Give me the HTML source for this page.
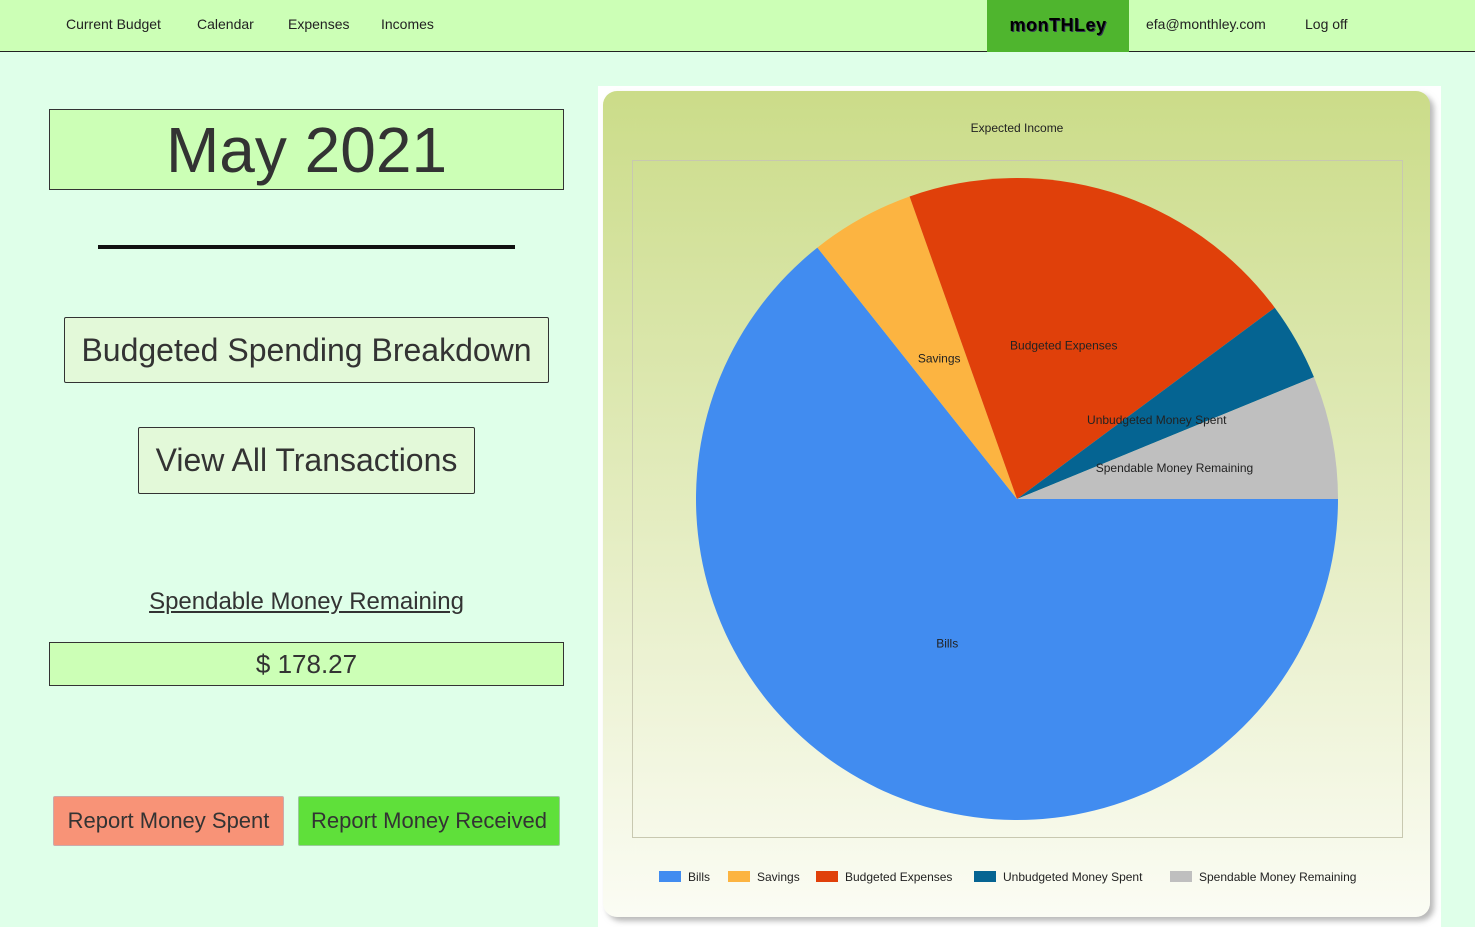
<!DOCTYPE html>
<html><head><meta charset="utf-8"><style>
body{margin:0;width:1475px;height:927px;background:#dfffe9;font-family:"Liberation Sans",sans-serif;position:relative;overflow:hidden}
.nav{position:absolute;left:0;top:0;width:1475px;height:51px;background:#ccffb6;border-bottom:1.5px solid #222}
.nav a{position:absolute;top:16px;font-size:14px;color:#222;text-decoration:none}
.brand{position:absolute;left:987px;top:0;width:142px;height:52px;background:#4fb52e;font-weight:bold;font-size:18px;color:#000;text-align:center;line-height:50px;letter-spacing:0.5px;text-shadow:1px 1px 0 #335}
.box{position:absolute;background:#ccffb6;border:1px solid #333;color:#333;text-align:center;box-sizing:border-box}
.btn{position:absolute;background:#e3f9d9;border:1px solid #333;border-radius:2px;color:#333;text-align:center;box-sizing:border-box;font-size:32px}
</style></head><body>
<div class="nav">
<a style="left:66px">Current Budget</a>
<a style="left:197px">Calendar</a>
<a style="left:288px">Expenses</a>
<a style="left:381px">Incomes</a>
<div class="brand">monTHLey</div>
<a style="left:1146px">efa@monthley.com</a>
<a style="left:1305px">Log off</a>
</div>
<div class="box" style="left:49px;top:109px;width:515px;height:81px;font-size:64px;line-height:80px">May 2021</div>
<div style="position:absolute;left:98px;top:245px;width:417px;height:4px;background:#111"></div>
<div class="btn" style="left:64px;top:317px;width:485px;height:66px;line-height:64px">Budgeted Spending Breakdown</div>
<div class="btn" style="left:138px;top:427px;width:337px;height:67px;line-height:65px">View All Transactions</div>
<div style="position:absolute;left:0;width:613px;top:588px;text-align:center;font-size:24px;color:#333;text-decoration:underline">Spendable Money Remaining</div>
<div class="box" style="left:49px;top:642px;width:515px;height:44px;font-size:26px;line-height:43px">$ 178.27</div>
<div style="position:absolute;left:53px;top:796px;width:231px;height:50px;background:#f89377;border:1px solid #caa;box-sizing:border-box;border-radius:2px;font-size:22px;color:#333;text-align:center;line-height:48px">Report Money Spent</div>
<div style="position:absolute;left:298px;top:796px;width:262px;height:50px;background:#5fe03a;border:1px solid #9c9;box-sizing:border-box;border-radius:2px;font-size:22px;color:#333;text-align:center;line-height:48px">Report Money Received</div>

<div style="position:absolute;left:598px;top:86px;width:843px;height:841px;background:#fff"></div>
<svg id="chart" style="position:absolute;left:0;top:0" width="1475" height="927">
<defs><linearGradient id="g" x1="0" y1="0" x2="0" y2="1"><stop offset="0" stop-color="#cbdc89"/><stop offset="1" stop-color="#fbfcf4"/></linearGradient>
<filter id="sh"><feDropShadow dx="4" dy="4" stdDeviation="3" flood-color="#888" flood-opacity="0.6"/></filter></defs>
<rect x="603" y="91" width="827" height="826" rx="14" fill="url(#g)" filter="url(#sh)"/>
<rect x="632.5" y="160.5" width="770" height="677" fill="none" stroke="#c8c8b0"/>
<text x="1017" y="132" font-size="12" text-anchor="middle" fill="#222">Expected Income</text>
<g id="slices"></g><g id="labels"></g><g id="legend"></g>
</svg>
<script>
const categories=["Bills","Savings","Budgeted Expenses","Unbudgeted Money Spent","Spendable Money Remaining"];
const values=[1850,151,583,114,178.27];
const colors=["#418cf0","#fcb441","#e0400a","#056492","#bfbfbf"];
const cx=1017,cy=499,r=321;
const total=values.reduce((a,b)=>a+b,0);
const NS="http://www.w3.org/2000/svg";
const sg=document.getElementById('slices'),lg=document.getElementById('labels'),gg=document.getElementById('legend');
function pt(a,rr){return [cx+rr*Math.cos(a),cy+rr*Math.sin(a)];}
let a0=0;
values.forEach((v,i)=>{
 const da=v/total*2*Math.PI,a1=a0+da;
 const p0=pt(a0,r),p1=pt(a1,r);
 const p=document.createElementNS(NS,'path');
 p.setAttribute('d',`M${cx},${cy}L${p0[0]},${p0[1]}A${r},${r} 0 ${da>Math.PI?1:0} 1 ${p1[0]},${p1[1]}Z`);
 p.setAttribute('fill',colors[i]);
 
 
 sg.appendChild(p);
 const m=pt((a0+a1)/2,r*0.5);
 const t=document.createElementNS(NS,'text');
 t.setAttribute('x',m[0]);t.setAttribute('y',m[1]+4);t.setAttribute('font-size','12');t.setAttribute('text-anchor','middle');t.setAttribute('fill','#222');
 t.textContent=categories[i];
 
 
 lg.appendChild(t);
 a0=a1;
});
const lx=[659,728,816,974,1170];
categories.forEach((c,i)=>{
 const g=document.createElementNS(NS,'g');
 
 
 g.innerHTML=`<rect x="${lx[i]}" y="871" width="22" height="11" fill="${colors[i]}"/><text x="${lx[i]+29}" y="881" font-size="12" fill="#222">${c}</text>`;
 gg.appendChild(g);
});
</script>
</body></html>
